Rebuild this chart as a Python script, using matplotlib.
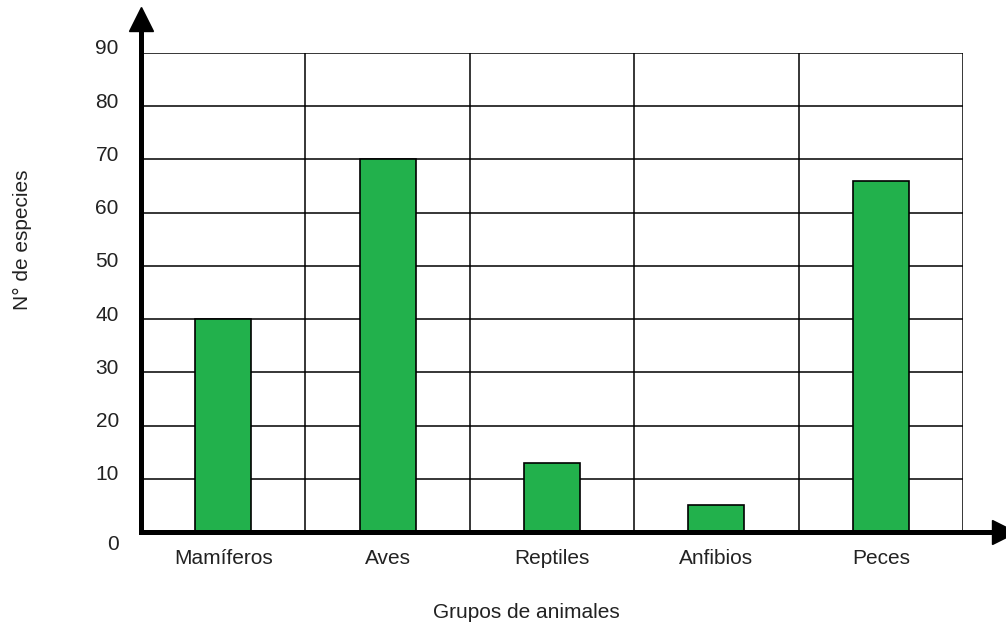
import matplotlib
matplotlib.use("Agg")
import matplotlib.pyplot as plt
import matplotlib.transforms as mtransforms

# data
grupos = ["Mamíferos", "Aves", "Reptiles", "Anfibios", "Peces"]
especies = [40, 70, 13, 5, 66]
y_ticks = [0, 10, 20, 30, 40, 50, 60, 70, 80, 90]

GREEN = "#22B14C"
LN = "black"
FS = 15

plt.rcParams["font.family"] = ["Liberation Sans", "DejaVu Sans"]

fig = plt.figure(figsize=(10.06, 6.26), dpi=100)
ax = fig.add_axes([141 / 1006, 94 / 626, 822 / 1006, 479 / 626])

x = list(range(len(grupos)))
ax.set_xlim(-0.5, len(grupos) - 0.5)
ax.set_ylim(0, 90)

# grid: horizontal every 10, vertical between groups
for v in y_ticks[1:]:
    ax.axhline(v, color=LN, lw=1.1, zorder=1)
for i in range(1, len(grupos) + 1):
    ax.axvline(i - 0.5, color=LN, lw=1.1, zorder=1)

ax.bar(x, especies, width=0.34, color=GREEN, edgecolor=LN, linewidth=1.2, zorder=2)

for side in ("top", "right"):
    ax.spines[side].set_visible(False)
for side in ("left", "bottom"):
    ax.spines[side].set_linewidth(3.6)
    ax.spines[side].set_zorder(4)
    ax.spines[side].set_capstyle("projecting")

# axis extensions with filled triangle heads
ax.plot([0, 0], [1, 1.045], transform=ax.transAxes, color=LN, lw=3.6,
        clip_on=False, zorder=4, solid_capstyle="butt")
ax.plot([0], [1.07], transform=ax.transAxes, marker="^", ms=17, color=LN,
        clip_on=False, zorder=5)
ax.plot([1, 1.035], [0, 0], transform=ax.transAxes, color=LN, lw=3.6,
        clip_on=False, zorder=4, solid_capstyle="butt")
ax.plot([1.05], [0], transform=ax.transAxes, marker=">", ms=17, color=LN,
        clip_on=False, zorder=5)

ax.set_xticks([])
ax.set_yticks([])

# tick labels (slightly above the grid lines, the 0 below the axis)
ytrans = mtransforms.blended_transform_factory(ax.transAxes, ax.transData)
for v in y_ticks:
    dy = -0.13 if v == 0 else 0.04
    off = mtransforms.ScaledTranslation(0, dy, fig.dpi_scale_trans)
    ax.text(-0.027, v, str(v), transform=ytrans + off, ha="right", va="center",
            fontsize=FS, color="#222222")

xtrans = mtransforms.blended_transform_factory(ax.transData, ax.transAxes)
for xi, name in zip(x, grupos):
    ax.text(xi, -0.055, name, transform=xtrans, ha="center", va="center",
            fontsize=FS, color="#222222")

fig.text(526 / 1006, 1 - 612 / 626, "Grupos de animales", ha="center",
         va="center", fontsize=FS, color="#222222")
fig.text(22 / 1006, 1 - 240 / 626, "N° de especies", ha="center", va="center",
         rotation=90, fontsize=FS, color="#222222")

fig.savefig("out.png", dpi=100, facecolor="white")
